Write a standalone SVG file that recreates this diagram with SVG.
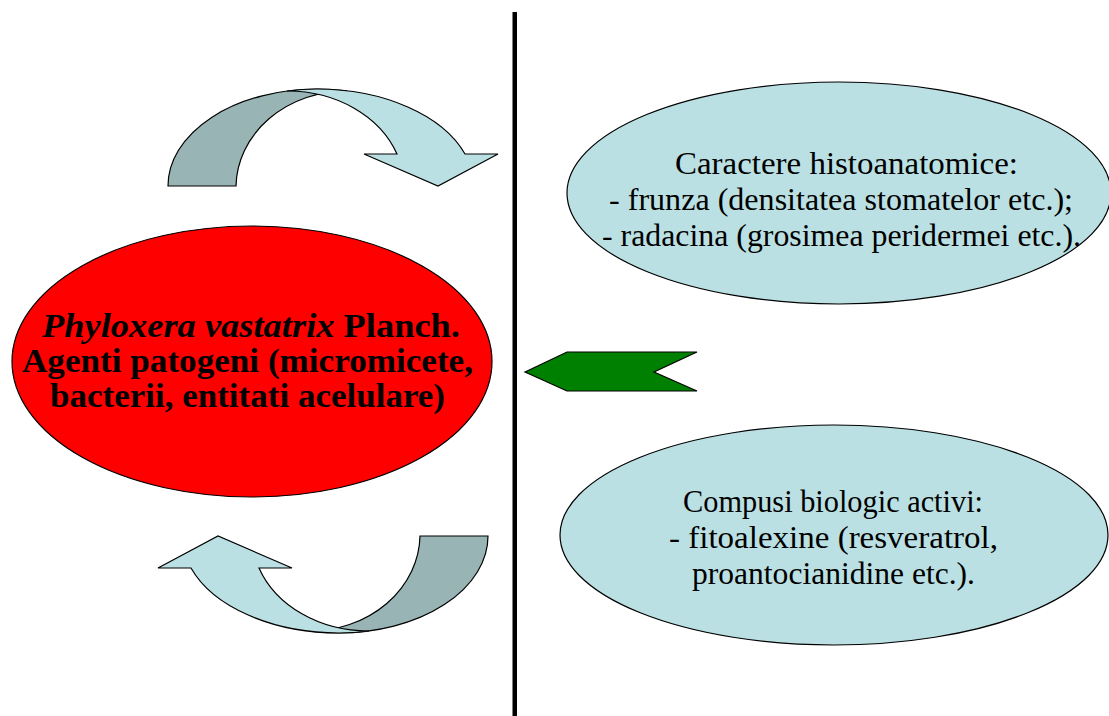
<svg xmlns="http://www.w3.org/2000/svg" width="1109" height="716" viewBox="0 0 1109 716">
  <style>
    .oval { fill: #BBE0E3; stroke: #000; stroke-width: 1.2; }
    .front { fill: #BBE0E3; stroke: #000; stroke-width: 1.2; stroke-linejoin: miter; }
    .back { fill: #98B4B5; stroke: #000; stroke-width: 1.2; }
    .lbl { font-family: "Liberation Serif", "Times New Roman", serif; font-size: 32px; fill: #000; }
    .bold { font-family: "Liberation Serif", "Times New Roman", serif; font-size: 33px; font-weight: bold; fill: #000; }
  </style>
  <defs>
    <!-- curved ribbon arrow: back face first, then the front face with the head -->
    <g id="curved-arrow">
      <path class="back" d="M 168 186 A 149 97 0 0 1 317 89 A 157 97 0 0 1 347 90.8 A 111 97 0 0 0 236 186 Z"/>
      <path class="front" d="M 287 91 A 149 97 0 0 1 317 89 A 157 97 0 0 1 465 154 L 498 154 L 438 186 L 364 154 L 397 154 A 116.5 96 0 0 0 287 91 Z"/>
    </g>
  </defs>

  <rect width="1109" height="716" fill="#fff"/>

  <!-- divider -->
  <rect x="512.5" y="12" width="4.5" height="704" fill="#000"/>

  <g id="connectors">
    <use id="arrow-top" href="#curved-arrow"/>
    <use id="arrow-bottom" href="#curved-arrow" transform="rotate(180 328 361)"/>
    <polygon id="arrow-left" points="525,372 567,352 697,352 654,372 697,391 567,391" fill="#008000" stroke="#000" stroke-width="1.2"/>
  </g>

  <g id="node-pathogens">
    <ellipse cx="252" cy="361.5" rx="240" ry="135.5" fill="#FF0000" stroke="#000" stroke-width="1.2"/>
    <text class="bold" x="42" y="337" textLength="418" lengthAdjust="spacingAndGlyphs"><tspan font-style="italic">Phyloxera vastatrix</tspan> Planch.</text>
    <text class="bold" x="22" y="372" textLength="451" lengthAdjust="spacingAndGlyphs">Agenti patogeni (micromicete,</text>
    <text class="bold" x="50" y="407" textLength="395" lengthAdjust="spacingAndGlyphs">bacterii, entitati acelulare)</text>
  </g>

  <g id="node-histo">
    <ellipse class="oval" cx="839" cy="193" rx="272" ry="111"/>
    <text class="lbl" x="675" y="174" textLength="343" lengthAdjust="spacingAndGlyphs">Caractere histoanatomice:</text>
    <text class="lbl" x="609" y="210" textLength="464" lengthAdjust="spacingAndGlyphs">- frunza (densitatea stomatelor etc.);</text>
    <text class="lbl" x="602" y="246" textLength="479" lengthAdjust="spacingAndGlyphs">- radacina (grosimea peridermei etc.).</text>
  </g>

  <g id="node-compounds">
    <ellipse class="oval" cx="834" cy="535" rx="274" ry="110"/>
    <text class="lbl" x="683" y="512" textLength="300" lengthAdjust="spacingAndGlyphs">Compusi biologic activi:</text>
    <text class="lbl" x="669" y="548" textLength="329" lengthAdjust="spacingAndGlyphs">- fitoalexine (resveratrol,</text>
    <text class="lbl" x="692" y="584" textLength="283" lengthAdjust="spacingAndGlyphs">proantocianidine etc.).</text>
  </g>
</svg>
